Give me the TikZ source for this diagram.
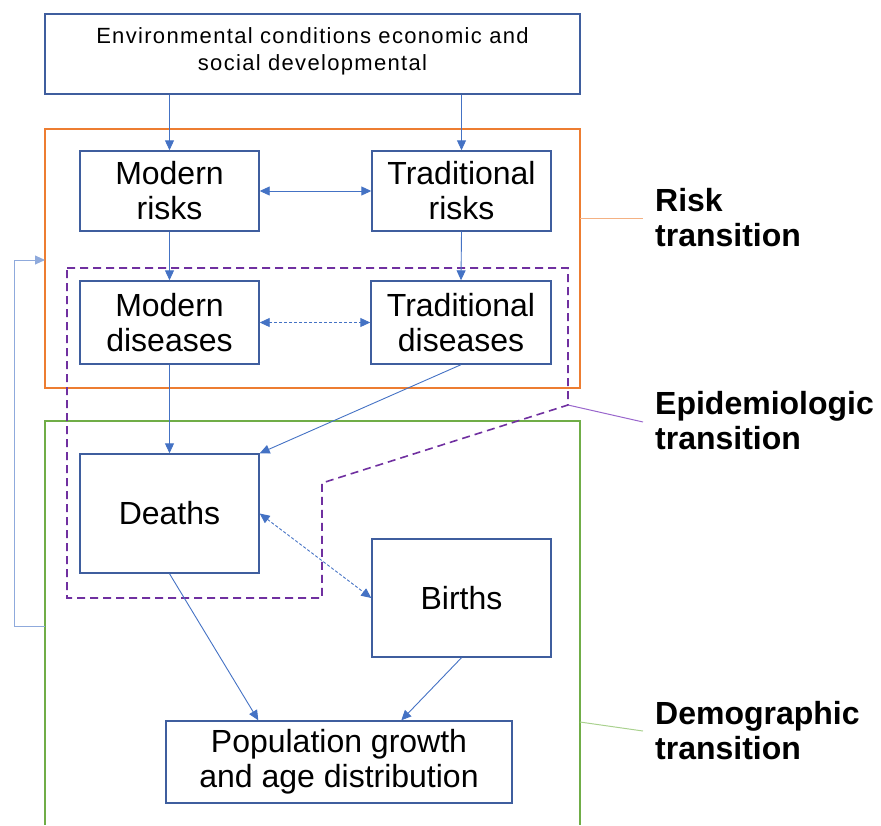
\documentclass[tikz,border=0pt]{standalone}
\usepackage{fontspec}
\setmainfont{Liberation Sans}
\usetikzlibrary{arrows.meta,calc}
\definecolor{boxblue}{HTML}{3F5E9E}
\definecolor{arrblue}{HTML}{4472C4}
\definecolor{lightblue}{HTML}{8FAADC}
\definecolor{orng}{HTML}{ED7D31}
\definecolor{lorng}{HTML}{F4B183}
\definecolor{grn}{HTML}{70AD47}
\definecolor{lgrn}{HTML}{A9D18E}
\definecolor{purp}{HTML}{7030A0}
\definecolor{lpurp}{HTML}{9966CC}
\tikzset{
  box/.style={draw=boxblue, line width=1.4pt, inner sep=0pt, align=center,
    font=\fontsize{32}{35}\selectfont},
  arr/.style={draw=arrblue, line width=0.9pt, -{Triangle[length=10pt,width=9pt]}},
  darr/.style={draw=arrblue, line width=0.9pt, {Triangle[length=10pt,width=9pt]}-{Triangle[length=10pt,width=9pt]}},
  dotarr/.style={darr, dash pattern=on 3pt off 2pt},
  lbl/.style={anchor=west, align=left, inner sep=0pt, font=\fontsize{32}{35}\selectfont\bfseries},
}
\begin{document}
\begin{tikzpicture}[x=1pt,y=-1pt]
\useasboundingbox (0,0) rectangle (881,825);
% frames
\draw[orng, line width=2pt] (45,129) rectangle (580,388);
\coordinate (riskR) at (580,218);
\coordinate (feedIn) at (45,260);
\draw[grn, line width=2pt] (45,825) -- (45,421) -- (580,421) -- (580,825);
\coordinate (demoR) at (580,722);
\coordinate (feedOut) at (45,626);
\draw[purp, line width=1.6pt, dash pattern=on 8pt off 5pt] (67,268) -- (568,268) -- (568,405) -- (322,483) -- (322,598) -- (67,598) -- cycle;
\coordinate (epiR) at (568,405);
% nodes
\node[box, minimum width=535pt, minimum height=80pt, font=\fontsize{22}{27}\selectfont\addfontfeatures{LetterSpace=6}] (env) at (312.5,54) {Environmental conditions economic and\\social developmental\\[-17pt]\mbox{}};
\node[box, minimum width=179pt, minimum height=80pt] (mr) at (169.5,191) {Modern\\risks};
\node[box, minimum width=179pt, minimum height=80pt] (tr) at (461.5,191) {Traditional\\risks};
\node[box, minimum width=179pt, minimum height=83pt] (md) at (169.5,322.5) {Modern\\diseases};
\node[box, minimum width=180pt, minimum height=83pt] (td) at (461,322.5) {Traditional\\diseases};
\node[box, minimum width=179pt, minimum height=119pt] (deaths) at (169.5,513.5) {Deaths};
\node[box, minimum width=179pt, minimum height=118pt] (births) at (461.5,598) {Births};
\node[box, minimum width=346pt, minimum height=82pt] (pop) at (339,762) {Population growth\\and age distribution};
% labels
\node[lbl] (risklbl) at (655,218) {Risk\\transition};
\node[lbl] (epilbl) at (655,421) {Epidemiologic\\transition};
\node[lbl] (demolbl) at (655,731) {Demographic\\transition};
\coordinate (riskL) at (643,218);
\coordinate (epiL) at (643,422);
\coordinate (demoL) at (643,731);
\draw[lorng, line width=1pt] (riskR) -- (riskL);
\draw[lpurp, line width=1pt] (epiR) -- (epiL);
\draw[lgrn, line width=1pt] (demoR) -- (demoL);
% arrows
\draw[arr] (env.south -| mr.north) -- (mr.north);
\draw[arr] (env.south -| tr.north) -- (tr.north);
\draw[darr] (mr.east) -- (tr.west);
\draw[arr] (mr.south) -- (md.north);
\draw[arr] (tr.south) -- (td.north);
\draw[dotarr] (md.east) -- (td.west);
\draw[arr] (md.south) -- (deaths.north);
\draw[arr] (td.south) -- (deaths.north east);
\draw[dotarr] (deaths.east) -- (births.west);
\draw[arr] (deaths.south) -- ([xshift=93pt]pop.north west);
\draw[arr] (births.south) -- ([xshift=236pt]pop.north west);
\draw[arr, draw=lightblue] (feedOut) -- (14,626) -- (14,260) -- (feedIn);
\end{tikzpicture}
\end{document}
